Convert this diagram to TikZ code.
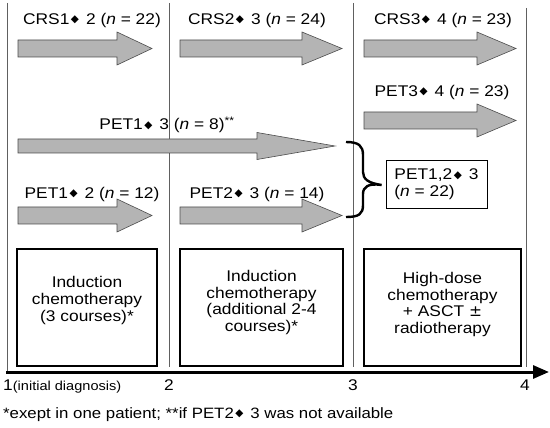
\documentclass[tikz,border=0pt]{standalone}
\usepackage{fontspec}
\setmainfont{Liberation Sans}[FakeStretch=1.12]
\newfontfamily\symfont{DejaVu Sans}
\usetikzlibrary{arrows.meta}
\definecolor{arrowgray}{RGB}{180,180,180}
\newcommand{\dia}{\hspace{1.5pt}\raisebox{1.2pt}{\symfont\fontsize{10.5}{10.5}\selectfont ◆}\hspace{7pt}}
% block arrow: x start, x tip, y, head length, body half width, head half width
\newcommand{\fatarrow}[6]{%
\filldraw[fill=arrowgray,draw=gray!60!black,line width=0.6pt] (#1,#3-#5) -- (#2-#4,#3-#5) -- (#2-#4,#3-#6) -- (#2,#3) -- (#2-#4,#3+#6) -- (#2-#4,#3+#5) -- (#1,#3+#5) -- cycle;}
\tikzset{
  vline/.style={gray!75!black,line width=0.8pt},
  phase/.style={draw,line width=1.6pt,minimum height=117pt},
  label/.style={font=\fontsize{15.5}{16.7}\selectfont,inner sep=0pt},
  boxtext/.style={font=\fontsize{15.5}{16.7}\selectfont,align=center,inner sep=0pt}
}
\begin{document}
\begin{tikzpicture}[x=1pt,y=-1pt]
\useasboundingbox (0,0) rectangle (550,428);
% time points
\draw[vline] (7,3) -- (7,372);
\draw[vline] (169,3) -- (169,367);
\draw[vline] (353,3) -- (353,367);
\draw[vline] (526,8) -- (526,367);
% arrows
\fatarrow{18}{152}{48.5}{35}{8.5}{16.5}
\fatarrow{180}{342}{48.5}{40}{8.5}{16.5}
\fatarrow{364}{516}{48.5}{39}{8.5}{16.5}
\fatarrow{364}{516}{120.5}{39}{8.5}{16.5}
\fatarrow{18}{335}{146}{78}{7}{13.5}
\fatarrow{18}{152}{215.5}{35}{8.5}{16.5}
\fatarrow{180}{342}{215.5}{40}{8.5}{16.5}
\node[label] (crsa) at (92,20) {CRS1\dia 2 (\textit{n} = 22)};
\node[label] (crsb) at (257,20) {CRS2\dia 3 (\textit{n} = 24)};
\node[label] (crsc) at (443,20) {CRS3\dia 4 (\textit{n} = 23)};
\node[label] (petc) at (442,92) {PET3\dia 4 (\textit{n} = 23)};
\node[label] (petlong) at (167,125) {PET1\dia 3 (\textit{n} = 8)\textsuperscript{**}};
\node[label] (peta) at (92,194) {PET1\dia 2 (\textit{n} = 12)};
\node[label] (petb) at (257,194) {PET2\dia 3 (\textit{n} = 14)};
% combined box and brace
\node[draw,line width=0.8pt,font=\fontsize{15.5}{16.7}\selectfont,align=left,minimum width=101pt,minimum height=48pt] (petab) at (436.5,184) {PET1,2\dia 3\\(\textit{n} = 22)};
\coordinate (bracetip) at ([xshift=-4pt,yshift=-1pt]petab.west);
\draw[line width=2.4pt] (346,142) .. controls (359,142) and (363,146) .. (363,155) -- (363,172) .. controls (363,179) and (368,183) .. (bracetip) .. controls (368,183) and (363,187) .. (363,194) -- (363,205) .. controls (363,214) and (359,217) .. (346,217);
% treatment phases
\node[phase,minimum width=140pt] (ind) at (87,307.5) {};
\node[phase,minimum width=163pt] (indb) at (261.5,307.5) {};
\node[phase,minimum width=157pt] (hd) at (442.5,307.5) {};
\node[boxtext] (indt) at ([yshift=7pt]ind.center) {Induction\\chemotherapy\\(3 courses)*};
\node[boxtext] (indbt) at ([yshift=5pt]indb.center) {Induction\\chemotherapy\\(additional 2-4\\courses)*};
\node[boxtext] (hdt) at ([yshift=3pt]hd.center) {High-dose\\chemotherapy\\+ ASCT {\symfont ±}\\radiotherapy};
% time axis
\coordinate (origin) at (6,372);
\coordinate (axend) at (549,372);
\draw[line width=3pt,-{Triangle[length=16pt,width=13pt]}] (origin) -- (axend);
\node[label,anchor=base west] (ta) at (3,390) {1{\fontsize{13}{14}\selectfont(initial diagnosis)}};
\node[label,anchor=base] (tb) at (169,390) {2};
\node[label,anchor=base] (tc) at (353,390) {3};
\node[label,anchor=base] (td) at (525,390) {4};
\node[anchor=base west,inner sep=0pt,font=\fontsize{15}{16}\selectfont] (note) at (3,418) {*exept in one patient; **if PET2\dia 3 was not available};
\end{tikzpicture}
\end{document}
